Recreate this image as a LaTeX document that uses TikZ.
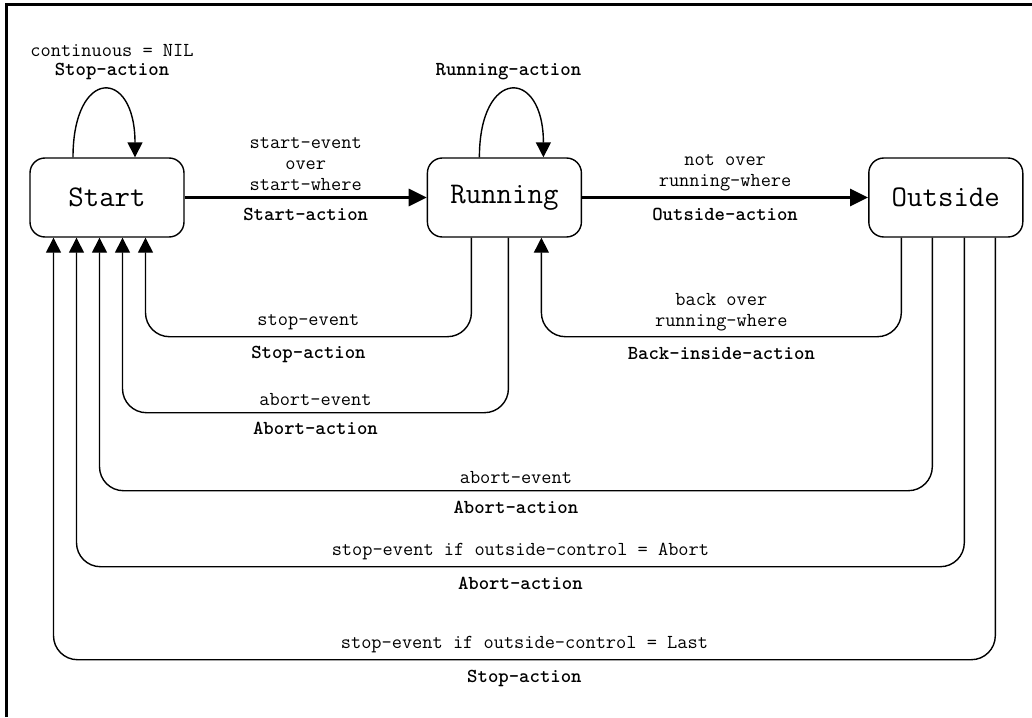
\documentclass[tikz,border=0pt]{standalone}
\usetikzlibrary{arrows.meta,positioning}
\tikzset{state/.style={draw, rounded corners=15pt, line width=1.4pt,
        minimum width=154pt, minimum height=79pt,
        font=\fontsize{30}{34}\selectfont\ttfamily},
    ev/.style={font=\fontsize{19.8}{21}\selectfont\ttfamily, align=center, inner sep=1pt},
    act/.style={ev, font=\fontsize{19.8}{21}\selectfont\ttfamily\bfseries},
    fwd/.style={line width=3pt, -{Triangle[length=18pt,width=17pt]}},
    ret/.style={line width=1.4pt, rounded corners=24pt,
        -{Triangle[length=15pt,width=15pt]}},
    frame/.style={line width=3pt}}
\begin{document}
\begin{tikzpicture}[x=1pt,y=-1pt]
    \useasboundingbox (0,0) rectangle (1032,717);
    \draw[frame] (6.5,717) -- (6.5,4.5) -- (1032,4.5);

    \node[state] (start) at (107,197.5) {Start};
    \node[state, right=242pt of start] (run) {Running};
    \node[state, right=286pt of run] (out) {Outside};

    \draw[fwd] (start) --
        node[ev, above=4pt] (startev) {start-event\\over\\start-where}
        node[act, below=8pt] (startact) {Start-action} (run);
    \draw[fwd] (run) --
        node[ev, above=4pt] (outev) {not over\\running-where}
        node[act, below=8pt] (outact) {Outside-action} (out);

    \draw[ret] ([xshift=-34pt]start.north) .. controls +(0,-90) and +(0,-90) .. ([xshift=28pt]start.north);
    \node[act] (selfstop) at ([xshift=5pt,yshift=86pt]start.north) {Stop-action};
    \node[ev, above=4pt of selfstop] (selfcond) {continuous = NIL};
    \draw[ret] ([xshift=-25pt]run.north) .. controls +(0,-90) and +(0,-90) .. ([xshift=39pt]run.north);
    \node[act] (selfrun) at ([xshift=4pt,yshift=86pt]run.north) {Running-action};

    \draw[ret] ([xshift=-33pt]run.south) -- ++(0,99) -|
        node[pos=.25, ev, above=5pt] (stopev) {stop-event}
        node[pos=.25, act, below=8pt] (stopact) {Stop-action} ([xshift=38.5pt]start.south);
    \draw[ret] ([xshift=4pt]run.south) -- ++(0,175) -|
        node[pos=.25, ev, above=5pt] (abortev) {abort-event}
        node[pos=.25, act, below=8pt] (abortact) {Abort-action} ([xshift=15.5pt]start.south);
    \draw[ret] ([xshift=-44.5pt]out.south) -- ++(0,99) -|
        node[pos=.25, ev, above=4pt] (backev) {back over\\running-where}
        node[pos=.25, act, below=9pt] (backact) {Back-inside-action} ([xshift=37pt]run.south);
    \draw[ret] ([xshift=-13.5pt]out.south) -- ++(0,253) -|
        node[pos=.25, ev, above=5pt] (oabortev) {abort-event}
        node[pos=.25, act, below=9pt] (oabortact) {Abort-action} ([xshift=-7.5pt]start.south);
    \draw[ret] ([xshift=18.5pt]out.south) -- ++(0,329) -|
        node[pos=.25, ev, above=5pt] (ctlabortev) {stop-event if outside-control = Abort}
        node[pos=.25, act, below=9pt] (ctlabortact) {Abort-action} ([xshift=-30.5pt]start.south);
    \draw[ret] ([xshift=49.5pt]out.south) -- ++(0,422) -|
        node[pos=.25, ev, above=5pt] (ctllastev) {stop-event if outside-control = Last}
        node[pos=.25, act, below=9pt] (ctllastact) {Stop-action} ([xshift=-53.5pt]start.south);
\end{tikzpicture}
\end{document}
